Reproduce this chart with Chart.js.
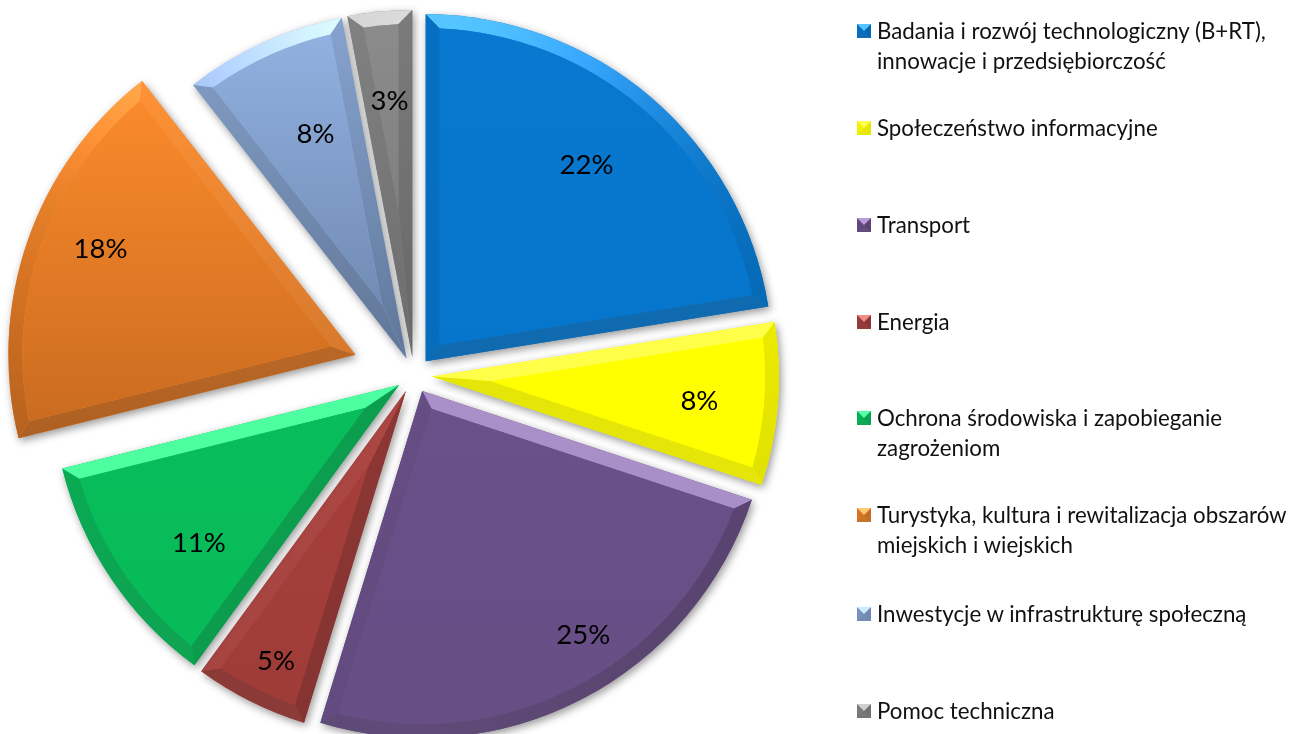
<!DOCTYPE html>
<html lang="pl">
<head>
<meta charset="utf-8">
<title>Wykres</title>
<script src="https://cdn.jsdelivr.net/npm/chart.js@4/dist/chart.umd.js"></script>
<style>
    html, body { margin: 0; padding: 0; background: #fff; overflow: hidden; }
    #wrap { position: relative; width: 1293px; height: 734px; overflow: hidden; }
    #pie { position: absolute; left: 0; top: -3px; }
    .leg-item {
        position: absolute; left: 857px; width: 436px; padding-left: 20px; box-sizing: border-box;
        font: 22.3px/30px Lato, sans-serif; color: #111; white-space: pre-line;
    }
    .leg-box {
        position: absolute; left: 0; top: 8px; width: 0; height: 0;
        border-style: solid; border-width: 7px 7.5px;
    }
</style>
</head>
<body>
<div id="wrap">
    <canvas id="pie" width="1293" height="756"></canvas>
    <div id="legend"></div>
</div>
<script>
const categories = [
    'Badania i rozwój technologiczny (B+RT),\ninnowacje i przedsiębiorczość',
    'Społeczeństwo informacyjne',
    'Transport',
    'Energia',
    'Ochrona środowiska i zapobieganie\nzagrożeniom',
    'Turystyka, kultura i rewitalizacja obszarów\nmiejskich i wiejskich',
    'Inwestycje w infrastrukturę społeczną',
    'Pomoc techniczna'
];
const shares     = [22.5, 7.6, 24.7, 5.3, 11.1, 18.35, 7.55, 3.0];
const explode    = [18, 18, 18, 18, 18, 62, 18, 18];
const faceTop    = ['#0878d0', '#ffff00', '#6b5089', '#a83f3c', '#08bd5b', '#fd8c2c', '#93b3e3', '#8c8c8c'];
const faceBottom = ['#0676cc', '#ffff00', '#674e85', '#9f3c38', '#08bb59', '#c86a20', '#6b84ab', '#777777'];

// where the percent text sits: fraction of the radius, degrees from 12 o'clock
const labelRadius = [0.732, 0.774, 0.843, 0.864, 0.735, 0.795, 0.697, 0.741];
const labelAngle  = [39.3, 95.3, 146.6, 205.7, 231.7, 292.5, 337.9, 354.9];
const legendTop   = [16, 113, 210, 307, 403, 500, 599, 696];

const BEVEL = 14;


function hexToRgb(hex) {
    const n = parseInt(hex.slice(1), 16);
    return [(n >> 16) & 255, (n >> 8) & 255, n & 255];
}

function mixRgb(a, b, t) {
    return a.map((v, i) => v + (b[i] - v) * t);
}

// colour of a bevel facet whose normal is (nx, ny), canvas y pointing down
function shade(rgb, nx, ny) {
    const lum = (rgb[0] * 0.3 + rgb[1] * 0.6 + rgb[2] * 0.1) / 255;
    const soft = 1 - 0.5 * lum;
    const up = Math.max(0, -ny), down = Math.max(0, ny);
    const side = (nx > 0 ? nx * 0.17 : -nx * 0.09) * (1 - up);
    const dark = (side + down * 0.12) * soft;
    const light = Math.pow(up, 4) * 78;
    const out = mixRgb(rgb.map(v => v * (1 - dark)), [128, 128, 128], down * 0.1 * soft)
        .map(v => Math.min(255, v + light));
    return `rgb(${out.map(Math.round).join(',')})`;
}


class BevelArc extends Chart.ArcElement {
    static id = 'bevelArc';
    static defaults = { ...Chart.ArcElement.defaults, faceBottom: '#000' };

    draw(ctx) {
        const { x, y, startAngle: a1, endAngle: a2, outerRadius: R, options } = this;
        const mid = (a1 + a2) / 2;
        const half = (a2 - a1) / 2;
        const tx = x + Math.cos(mid) * options.offset;
        const ty = y + Math.sin(mid) * options.offset;
        const at = (r, a) => [tx + Math.cos(a) * r, ty + Math.sin(a) * r];

        const r2 = R - BEVEL;
        const th = Math.asin(BEVEL / r2);
        const inner = at(BEVEL / Math.sin(half), mid);
        const p1 = at(R, a1), p2 = at(R, a2);
        const q1 = at(r2, a1 + th), q2 = at(r2, a2 - th);

        const top = hexToRgb(options.backgroundColor);
        const bot = hexToRgb(options.faceBottom);
        const topY = Math.min(ty, p1[1], p2[1], at(R, mid)[1]);
        const botY = Math.max(ty, p1[1], p2[1], at(R, mid)[1]);
        const faceAt = py => mixRgb(top, bot, Math.min(1, Math.max(0, (py - topY) / (botY - topY))));

        ctx.save();

        // whole wedge first, this one carries the soft shadow
        ctx.shadowColor = 'rgba(0,0,0,0.42)';
        ctx.shadowBlur = 9;
        ctx.shadowOffsetX = 2;
        ctx.shadowOffsetY = 3;
        ctx.fillStyle = options.backgroundColor;
        ctx.beginPath();
        ctx.moveTo(tx, ty);
        ctx.arc(tx, ty, R, a1, a2);
        ctx.closePath();
        ctx.fill();
        ctx.shadowColor = 'transparent';

        // rim, colour follows the arc
        const rim = ctx.createConicGradient(a1, tx, ty);
        const steps = 16;
        for (let i = 0; i <= steps; i++) {
            const a = a1 + (a2 - a1) * i / steps;
            const nx = Math.cos(a), ny = Math.sin(a);
            rim.addColorStop((a - a1) / (Math.PI * 2), shade(faceAt(ty + ny * R), nx, ny));
        }
        ctx.fillStyle = rim;
        ctx.beginPath();
        ctx.arc(tx, ty, R, a1, a2);
        ctx.lineTo(q2[0], q2[1]);
        ctx.arc(tx, ty, r2, a2 - th, a1 + th, true);
        ctx.closePath();
        ctx.fill();

        // two straight edges
        const edge = (outer, innerEnd, normal) => {
            const nx = Math.cos(normal), ny = Math.sin(normal);
            const g = ctx.createLinearGradient(0, topY, 0, botY);
            g.addColorStop(0, shade(top, nx, ny));
            g.addColorStop(1, shade(bot, nx, ny));
            ctx.fillStyle = g;
            ctx.beginPath();
            ctx.moveTo(tx, ty);
            ctx.lineTo(outer[0], outer[1]);
            ctx.lineTo(innerEnd[0], innerEnd[1]);
            ctx.lineTo(inner[0], inner[1]);
            ctx.closePath();
            ctx.fill();
        };
        edge(p1, q1, a1 - Math.PI / 2);
        edge(p2, q2, a2 + Math.PI / 2);

        // flat face
        const grad = ctx.createLinearGradient(0, topY, 0, botY);
        grad.addColorStop(0, options.backgroundColor);
        grad.addColorStop(1, options.faceBottom);
        ctx.fillStyle = grad;
        ctx.beginPath();
        ctx.moveTo(inner[0], inner[1]);
        ctx.lineTo(q1[0], q1[1]);
        ctx.arc(tx, ty, r2, a1 + th, a2 - th);
        ctx.closePath();
        ctx.fill();

        ctx.restore();
    }
}

Chart.register(BevelArc);
Chart.defaults.datasets.pie.dataElementType = 'bevelArc';


const percentLabels = {
    id: 'percentLabels',
    afterDatasetsDraw(chart) {
        const ctx = chart.ctx;
        const total = shares.reduce((a, b) => a + b, 0);
        ctx.save();
        ctx.font = '27.5px Lato, sans-serif';
        ctx.fillStyle = '#000';
        ctx.textAlign = 'center';
        ctx.textBaseline = 'middle';
        chart.getDatasetMeta(0).data.forEach((arc, i) => {
            const mid = (arc.startAngle + arc.endAngle) / 2;
            const a = (labelAngle[i] - 90) * Math.PI / 180;
            const r = arc.outerRadius * labelRadius[i];
            const x = arc.x + Math.cos(mid) * explode[i] + Math.cos(a) * r;
            const y = arc.y + Math.sin(mid) * explode[i] + Math.sin(a) * r;
            ctx.fillText(Math.round(shares[i] / total * 100) + '%', x, y);
        });
        ctx.restore();
    }
};


new Chart(document.getElementById('pie'), {
    type: 'pie',
    data: {
        labels: categories,
        datasets: [{
            data: shares,
            offset: explode,
            backgroundColor: faceTop,
            faceBottom: faceBottom,
            borderWidth: 0
        }]
    },
    options: {
        responsive: false,
        animation: false,
        layout: { padding: { left: 36, right: 501, top: 0, bottom: 0 } },
        plugins: { legend: { display: false }, tooltip: { enabled: false } }
    },
    plugins: [percentLabels]
});


function renderLegend() {
    const box = document.getElementById('legend');
    categories.forEach((name, i) => {
        const item = document.createElement('div');
        item.className = 'leg-item';
        item.style.top = legendTop[i] + 'px';
        item.textContent = name;
        const mark = document.createElement('span');
        const c = mixRgb(hexToRgb(faceTop[i]), hexToRgb(faceBottom[i]), 0.5);
        mark.className = 'leg-box';
        mark.style.borderColor = `${shade(c, 0, -1)} ${shade(c, 1, 0)} ${shade(c, 0, 1)} ${shade(c, -1, 0)}`;
        item.prepend(mark);
        box.appendChild(item);
    });
}

renderLegend();
</script>
</body>
</html>
